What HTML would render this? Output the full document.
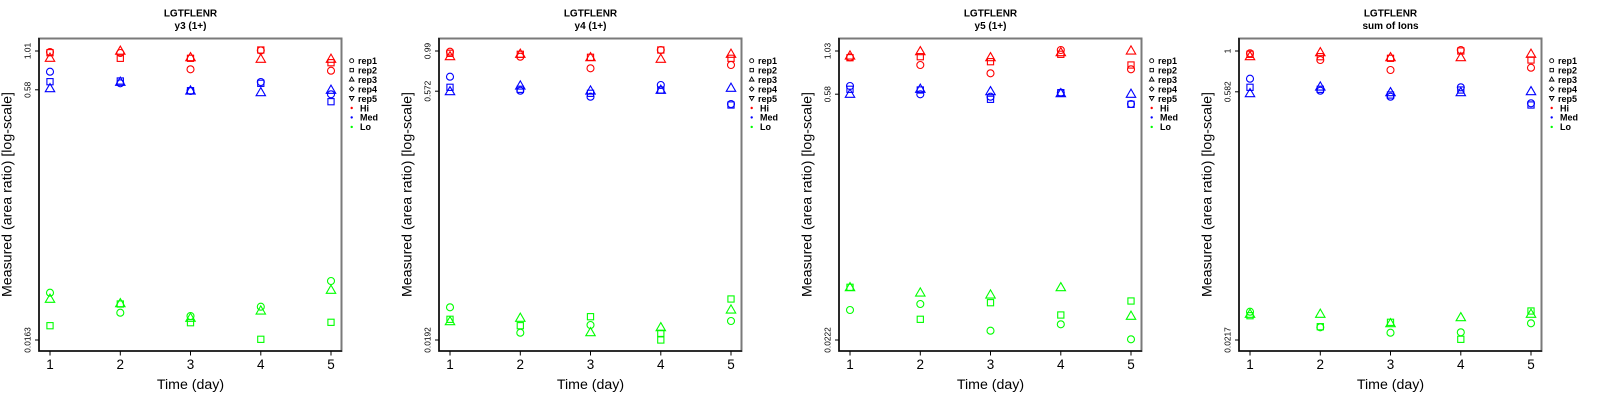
<!DOCTYPE html>
<html>
<head>
<meta charset="utf-8">
<style>
html,body{margin:0;padding:0;background:#fff;}
svg{display:block;}
text{font-family:"Liberation Sans",Arial,sans-serif;fill:#000;}
.ttl{font-size:10px;font-weight:bold;text-anchor:middle;}
.yt{font-size:8.3px;text-anchor:middle;}
.xt{font-size:13.5px;text-anchor:middle;}
.lab{font-size:14.2px;text-anchor:middle;}
.lg{font-size:9px;font-weight:bold;}
</style>
</head>
<body>
<svg width="1600" height="400" viewBox="0 0 1600 400" xmlns="http://www.w3.org/2000/svg">
<defs>
<circle id="c" r="3.5" fill="none"/>
<rect id="s" x="-3.1" y="-3.1" width="6.2" height="6.2" fill="none"/>
<polygon id="t" points="0,-5.44 4.71,2.72 -4.71,2.72" fill="none"/>
<g id="frame">
  <rect x="39" y="38.5" width="302.5" height="312.5" fill="none" stroke="#7a7a7a" stroke-width="2"/>
  <line x1="39" y1="38" x2="39" y2="351.5" stroke="#000" stroke-width="1.3"/>
  <line x1="38.5" y1="351" x2="342" y2="351" stroke="#000" stroke-width="1.3"/>
  <g stroke="#000" stroke-width="1">
    <line x1="50" y1="351" x2="50" y2="355.5"/>
    <line x1="120.3" y1="351" x2="120.3" y2="355.5"/>
    <line x1="190.5" y1="351" x2="190.5" y2="355.5"/>
    <line x1="260.8" y1="351" x2="260.8" y2="355.5"/>
    <line x1="331" y1="351" x2="331" y2="355.5"/>
  </g>
  <g stroke="#000" stroke-width="0.9" fill="none">
    <circle cx="351.7" cy="60.7" r="2"/>
    <rect x="350" y="68.4" width="3.4" height="3.4"/>
    <polygon points="351.7,77 354,81 349.4,81"/>
    <polygon points="351.7,86.8 353.9,89 351.7,91.2 349.5,89"/>
    <polygon points="351.7,100.5 354,96.5 349.4,96.5"/>
  </g>
  <circle cx="351.7" cy="108" r="1.2" fill="#ff0000"/>
  <circle cx="351.7" cy="117.4" r="1.2" fill="#0000ff"/>
  <circle cx="351.7" cy="126.9" r="1.2" fill="#00ff00"/>
  <text class="lg" x="358" y="64">rep1</text>
  <text class="lg" x="358" y="73.4">rep2</text>
  <text class="lg" x="358" y="82.9">rep3</text>
  <text class="lg" x="358" y="92.3">rep4</text>
  <text class="lg" x="358" y="101.8">rep5</text>
  <text class="lg" x="360" y="111.3">Hi</text>
  <text class="lg" x="360" y="120.7">Med</text>
  <text class="lg" x="360" y="130.2">Lo</text>
  <text class="xt" x="50" y="369">1</text>
  <text class="xt" x="120.3" y="369">2</text>
  <text class="xt" x="190.5" y="369">3</text>
  <text class="xt" x="260.8" y="369">4</text>
  <text class="xt" x="331" y="369">5</text>
  <text class="lab" x="190.5" y="389">Time (day)</text>
  <text class="lab" transform="translate(11.5,194.5) rotate(-90)">Measured (area ratio) [log-scale]</text>
  <text class="ttl" x="190.5" y="16.7">LGTFLENR</text>
</g>
</defs>

<!-- Panel 1 -->
<g>
  <use href="#frame"/>
  <text class="ttl" x="190.5" y="29">y3 (1+)</text>
  <g stroke="#000" stroke-width="1">
    <line x1="35" y1="51" x2="39" y2="51"/>
    <line x1="35" y1="89.8" x2="39" y2="89.8"/>
    <line x1="35" y1="340" x2="39" y2="340"/>
  </g>
  <text class="yt" transform="translate(30.5,51) rotate(-90)">1.01</text>
  <text class="yt" transform="translate(30.5,89.8) rotate(-90)">0.58</text>
  <text class="yt" transform="translate(30.5,340) rotate(-90)">0.0163</text>
  <g stroke="#ff0000" stroke-width="1.1">
    <use href="#c" x="50" y="52"/><use href="#s" x="50" y="52.7"/><use href="#t" x="50" y="58.6"/>
    <use href="#t" x="120.3" y="51.5"/><use href="#c" x="120.3" y="53"/><use href="#s" x="120.3" y="58.3"/>
    <use href="#t" x="190.5" y="58"/><use href="#s" x="190.5" y="58.3"/><use href="#c" x="190.5" y="69.3"/>
    <use href="#s" x="260.8" y="50"/><use href="#c" x="260.8" y="50.5"/><use href="#t" x="260.8" y="59.6"/>
    <use href="#t" x="331" y="59.6"/><use href="#s" x="331" y="62.7"/><use href="#c" x="331" y="70.7"/>
  </g>
  <g stroke="#0000ff" stroke-width="1.1">
    <use href="#c" x="50" y="71.7"/><use href="#s" x="50" y="81.7"/><use href="#t" x="50" y="89"/>
    <use href="#s" x="120.3" y="81"/><use href="#t" x="120.3" y="82.6"/><use href="#c" x="120.3" y="83.3"/>
    <use href="#s" x="190.5" y="90.7"/><use href="#t" x="190.5" y="91.3"/><use href="#c" x="190.5" y="91"/>
    <use href="#c" x="260.8" y="82"/><use href="#s" x="260.8" y="83.3"/><use href="#t" x="260.8" y="93"/>
    <use href="#t" x="331" y="90.6"/><use href="#c" x="331" y="94.3"/><use href="#s" x="331" y="101.7"/>
  </g>
  <g stroke="#00ff00" stroke-width="1.1">
    <use href="#c" x="50" y="292.7"/><use href="#t" x="50" y="299.6"/><use href="#s" x="50" y="325.7"/>
    <use href="#t" x="120.3" y="304"/><use href="#s" x="120.3" y="304"/><use href="#c" x="120.3" y="312.7"/>
    <use href="#c" x="190.5" y="316"/><use href="#t" x="190.5" y="318.6"/><use href="#s" x="190.5" y="322.7"/>
    <use href="#c" x="260.8" y="306.7"/><use href="#t" x="260.8" y="311.3"/><use href="#s" x="260.8" y="339.3"/>
    <use href="#c" x="331" y="281"/><use href="#t" x="331" y="290.6"/><use href="#s" x="331" y="322.3"/>
  </g>
</g>

<!-- Panel 2 -->
<g transform="translate(400,0)">
  <use href="#frame"/>
  <text class="ttl" x="190.5" y="29">y4 (1+)</text>
  <g stroke="#000" stroke-width="1">
    <line x1="35" y1="51" x2="39" y2="51"/>
    <line x1="35" y1="91.2" x2="39" y2="91.2"/>
    <line x1="35" y1="340" x2="39" y2="340"/>
  </g>
  <text class="yt" transform="translate(30.5,51) rotate(-90)">0.99</text>
  <text class="yt" transform="translate(30.5,91.2) rotate(-90)">0.572</text>
  <text class="yt" transform="translate(30.5,340) rotate(-90)">0.0192</text>
  <g stroke="#ff0000" stroke-width="1.1">
    <use href="#c" x="50" y="51.7"/><use href="#s" x="50" y="53.3"/><use href="#t" x="50" y="57"/>
    <use href="#t" x="120.3" y="54.6"/><use href="#s" x="120.3" y="54.3"/><use href="#c" x="120.3" y="56.7"/>
    <use href="#t" x="190.5" y="58"/><use href="#s" x="190.5" y="57.3"/><use href="#c" x="190.5" y="68.3"/>
    <use href="#s" x="260.8" y="50"/><use href="#c" x="260.8" y="50"/><use href="#t" x="260.8" y="59.6"/>
    <use href="#t" x="331" y="54.6"/><use href="#s" x="331" y="58.3"/><use href="#c" x="331" y="65"/>
  </g>
  <g stroke="#0000ff" stroke-width="1.1">
    <use href="#c" x="50" y="76.7"/><use href="#s" x="50" y="87.3"/><use href="#t" x="50" y="92"/>
    <use href="#t" x="120.3" y="86.3"/><use href="#s" x="120.3" y="89.3"/><use href="#c" x="120.3" y="90.7"/>
    <use href="#t" x="190.5" y="91.3"/><use href="#s" x="190.5" y="93.3"/><use href="#c" x="190.5" y="96.7"/>
    <use href="#c" x="260.8" y="85"/><use href="#t" x="260.8" y="90.6"/><use href="#s" x="260.8" y="90"/>
    <use href="#t" x="331" y="88.6"/><use href="#c" x="331" y="104"/><use href="#s" x="331" y="105"/>
  </g>
  <g stroke="#00ff00" stroke-width="1.1">
    <use href="#c" x="50" y="307.3"/><use href="#s" x="50" y="319.3"/><use href="#t" x="50" y="322"/>
    <use href="#t" x="120.3" y="318.6"/><use href="#s" x="120.3" y="325.7"/><use href="#c" x="120.3" y="332.7"/>
    <use href="#s" x="190.5" y="316.7"/><use href="#c" x="190.5" y="325"/><use href="#t" x="190.5" y="333"/>
    <use href="#t" x="260.8" y="328"/><use href="#s" x="260.8" y="333.3"/><use href="#s" x="260.8" y="340"/>
    <use href="#s" x="331" y="299"/><use href="#t" x="331" y="310.3"/><use href="#c" x="331" y="321"/>
  </g>
</g>

<!-- Panel 3 -->
<g transform="translate(800,0)">
  <use href="#frame"/>
  <text class="ttl" x="190.5" y="29">y5 (1+)</text>
  <g stroke="#000" stroke-width="1">
    <line x1="35" y1="51" x2="39" y2="51"/>
    <line x1="35" y1="94.2" x2="39" y2="94.2"/>
    <line x1="35" y1="340" x2="39" y2="340"/>
  </g>
  <text class="yt" transform="translate(30.5,51) rotate(-90)">1.03</text>
  <text class="yt" transform="translate(30.5,94.2) rotate(-90)">0.58</text>
  <text class="yt" transform="translate(30.5,340) rotate(-90)">0.0222</text>
  <g stroke="#ff0000" stroke-width="1.1">
    <use href="#t" x="50" y="56.3"/><use href="#s" x="50" y="57.7"/><use href="#c" x="50" y="57.3"/>
    <use href="#t" x="120.3" y="52"/><use href="#s" x="120.3" y="56.7"/><use href="#c" x="120.3" y="65"/>
    <use href="#t" x="190.5" y="58"/><use href="#s" x="190.5" y="61.7"/><use href="#c" x="190.5" y="73.3"/>
    <use href="#c" x="260.8" y="50"/><use href="#t" x="260.8" y="53"/><use href="#s" x="260.8" y="54.3"/>
    <use href="#t" x="331" y="51.3"/><use href="#s" x="331" y="65"/><use href="#c" x="331" y="69.3"/>
  </g>
  <g stroke="#0000ff" stroke-width="1.1">
    <use href="#c" x="50" y="86"/><use href="#s" x="50" y="89.3"/><use href="#t" x="50" y="94.6"/>
    <use href="#t" x="120.3" y="89.6"/><use href="#s" x="120.3" y="90"/><use href="#c" x="120.3" y="94.3"/>
    <use href="#t" x="190.5" y="92"/><use href="#c" x="190.5" y="96.7"/><use href="#s" x="190.5" y="99.3"/>
    <use href="#t" x="260.8" y="94"/><use href="#s" x="260.8" y="92.7"/><use href="#c" x="260.8" y="92.7"/>
    <use href="#t" x="331" y="94.6"/><use href="#c" x="331" y="104"/><use href="#s" x="331" y="104.3"/>
  </g>
  <g stroke="#00ff00" stroke-width="1.1">
    <use href="#t" x="50" y="288"/><use href="#s" x="50" y="287.3"/><use href="#c" x="50" y="310"/>
    <use href="#t" x="120.3" y="293.3"/><use href="#c" x="120.3" y="304"/><use href="#s" x="120.3" y="319.3"/>
    <use href="#t" x="190.5" y="295.3"/><use href="#s" x="190.5" y="302.7"/><use href="#c" x="190.5" y="330.7"/>
    <use href="#t" x="260.8" y="288"/><use href="#s" x="260.8" y="315"/><use href="#c" x="260.8" y="324.3"/>
    <use href="#s" x="331" y="301"/><use href="#t" x="331" y="316.6"/><use href="#c" x="331" y="339.3"/>
  </g>
</g>

<!-- Panel 4 -->
<g transform="translate(1200,0)">
  <use href="#frame"/>
  <text class="ttl" x="190.5" y="29">sum of Ions</text>
  <g stroke="#000" stroke-width="1">
    <line x1="35" y1="51" x2="39" y2="51"/>
    <line x1="35" y1="91.8" x2="39" y2="91.8"/>
    <line x1="35" y1="340" x2="39" y2="340"/>
  </g>
  <text class="yt" transform="translate(30.5,51) rotate(-90)">1</text>
  <text class="yt" transform="translate(30.5,91.8) rotate(-90)">0.582</text>
  <text class="yt" transform="translate(30.5,340) rotate(-90)">0.0217</text>
  <g stroke="#ff0000" stroke-width="1.1">
    <use href="#c" x="50" y="53.3"/><use href="#s" x="50" y="54.3"/><use href="#t" x="50" y="57"/>
    <use href="#t" x="120.3" y="53"/><use href="#s" x="120.3" y="56.7"/><use href="#c" x="120.3" y="60"/>
    <use href="#t" x="190.5" y="58"/><use href="#s" x="190.5" y="58.3"/><use href="#c" x="190.5" y="70"/>
    <use href="#c" x="260.8" y="50"/><use href="#s" x="260.8" y="51"/><use href="#t" x="260.8" y="58"/>
    <use href="#t" x="331" y="54.6"/><use href="#s" x="331" y="60"/><use href="#c" x="331" y="67.7"/>
  </g>
  <g stroke="#0000ff" stroke-width="1.1">
    <use href="#c" x="50" y="78.7"/><use href="#s" x="50" y="87.3"/><use href="#t" x="50" y="94"/>
    <use href="#t" x="120.3" y="87.3"/><use href="#s" x="120.3" y="89.3"/><use href="#c" x="120.3" y="90.7"/>
    <use href="#t" x="190.5" y="93"/><use href="#s" x="190.5" y="95"/><use href="#c" x="190.5" y="96.7"/>
    <use href="#c" x="260.8" y="87.3"/><use href="#s" x="260.8" y="90"/><use href="#t" x="260.8" y="93"/>
    <use href="#t" x="331" y="92"/><use href="#c" x="331" y="103.3"/><use href="#s" x="331" y="105"/>
  </g>
  <g stroke="#00ff00" stroke-width="1.1">
    <use href="#c" x="50" y="311.7"/><use href="#t" x="50" y="314.6"/><use href="#s" x="50" y="315.7"/>
    <use href="#t" x="120.3" y="314.6"/><use href="#s" x="120.3" y="326.7"/><use href="#c" x="120.3" y="327.3"/>
    <use href="#s" x="190.5" y="322.3"/><use href="#t" x="190.5" y="324"/><use href="#c" x="190.5" y="332.7"/>
    <use href="#t" x="260.8" y="318"/><use href="#c" x="260.8" y="332.3"/><use href="#s" x="260.8" y="339.3"/>
    <use href="#s" x="331" y="311"/><use href="#t" x="331" y="314.6"/><use href="#c" x="331" y="323.3"/>
  </g>
</g>
</svg>
</body>
</html>
